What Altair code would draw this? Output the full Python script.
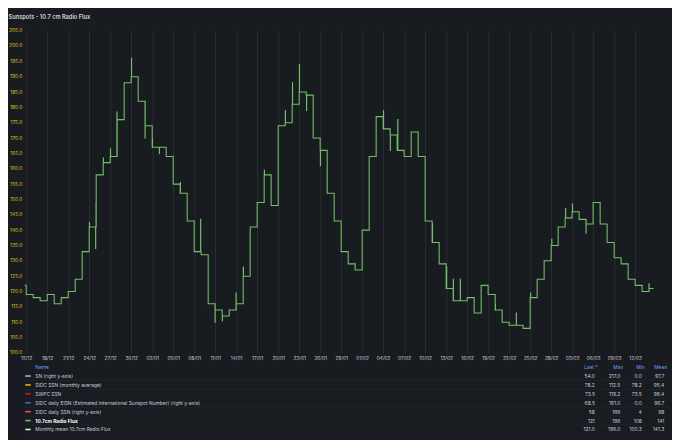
import altair as alt
import pandas as pd

# ---------------- data ----------------
start_day = "2022-12-15"
daily_flux = [119, 118, 117, 119, 116, 118, 120, 124, 133, 141,
              158, 162, 164, 176, 188, 190, 182, 174, 167, 167,
              164, 155, 152, 143, 133, 132, 116, 114, 112, 114,
              116, 125, 141, 149, 158, 148, 174, 175, 181, 185,
              184, 170, 166, 152, 143, 133, 129, 127, 140, 164,
              177, 173, 171, 166, 164, 172, 164, 143, 136, 129,
              121, 117, 117, 118, 113, 122, 119, 114, 110, 109,
              109, 108, 118, 124, 130, 135, 141, 144, 146, 143.5,
              142, 149, 142, 136, 131, 129, 124, 122, 120, 121]
first_time = "2022-12-14 18:30"
first_value = 122
last_time = "2023-03-14 15:00"
x_domain = ["2022-12-14 18:30", "2023-03-14 21:30"]

spike_times = [
    "2022-12-24 00:45", "2022-12-24 22:00", "2022-12-24 23:20", "2022-12-26 00:30",
    "2022-12-27 00:45", "2022-12-27 23:00", "2022-12-30 01:00", "2022-12-31 23:30",
    "2023-01-02 00:30", "2023-01-03 00:30", "2023-01-06 00:30", "2023-01-08 22:00",
    "2023-01-10 23:30", "2023-01-12 00:30", "2023-01-13 23:30", "2023-01-15 00:30",
    "2023-01-18 00:30", "2023-01-21 00:30", "2023-01-22 01:00", "2023-01-23 00:45",
    "2023-01-24 01:15", "2023-01-26 00:45", "2023-02-04 01:00", "2023-02-05 00:30",
    "2023-02-06 02:00", "2023-02-11 01:00", "2023-02-13 01:30", "2023-02-14 00:30",
    "2023-02-15 00:30", "2023-02-20 00:30", "2023-02-23 00:30", "2023-02-25 01:30",
    "2023-02-28 02:00", "2023-03-02 01:30", "2023-03-03 01:00", "2023-03-04 23:30",
    "2023-03-13 23:30"]
spike_values = [142.5, 134, 149, 163.5, 166.5, 178.5, 196, 170, 170, 165,
                155.5, 143.5, 110, 110.5, 119.5, 128, 159.5, 179, 188, 194,
                179, 161, 179, 166, 176, 142, 128, 124, 124, 116,
                113, 119.5, 137, 147, 148.6, 139, 122.5]

tick_dates = ["2022-12-15", "2022-12-18", "2022-12-21", "2022-12-24", "2022-12-27",
              "2022-12-30", "2023-01-02", "2023-01-05", "2023-01-08", "2023-01-11",
              "2023-01-14", "2023-01-17", "2023-01-20", "2023-01-23", "2023-01-26",
              "2023-01-29", "2023-02-01", "2023-02-04", "2023-02-07", "2023-02-10",
              "2023-02-13", "2023-02-16", "2023-02-19", "2023-02-22", "2023-02-25",
              "2023-02-28", "2023-03-03", "2023-03-06", "2023-03-09", "2023-03-12"]
y_ticks = [100, 105, 110, 115, 120, 125, 130, 135, 140, 145, 150, 155,
           160, 165, 170, 175, 180, 185, 190, 195, 200, 205]

legend_headers = ["Name", "Last *", "Max", "Min", "Mean"]
legend_names = ["SN (right y-axis)",
                "SIDC SSN (monthly average)",
                "SWPC SSN",
                "SIDC daily EISN (Estimated International Sunspot Number) (right y-axis)",
                "SIDC daily SSN (right y-axis)",
                "10.7cm Radio Flux",
                "Monthly mean 10.7cm Radio Flux"]
legend_last = ["54.0", "78.2", "73.5", "68.5", "58", "121", "121.0"]
legend_max = ["217.0", "112.5", "119.2", "191.0", "166", "196", "196.0"]
legend_min = ["0.0", "78.2", "73.5", "0.0", "4", "108", "100.3"]
legend_mean = ["97.7", "95.4", "96.4", "96.7", "98", "141", "141.3"]
series_colors = ["#B9A3E8", "#E0B400", "#C4162A", "#3274D9", "#F2495C", "#73BF69", "#D6F5D0"]
active_series = "10.7cm Radio Flux"

# ---------------- build tables ----------------
start = pd.Timestamp(start_day)
times = [pd.Timestamp(first_time)]
vals = [first_value]
for i, v in enumerate(daily_flux):
    times.append(start + pd.Timedelta(days=i))
    vals.append(v)
for ts, v in zip(spike_times, spike_values):
    t = pd.Timestamp(ts)
    base = daily_flux[(t.normalize() - start).days]
    times += [t, t + pd.Timedelta(minutes=25)]
    vals += [v, base]
times.append(pd.Timestamp(last_time))
vals.append(daily_flux[-1])
flux_df = pd.DataFrame({"time": times, "flux": vals}).sort_values("time").reset_index(drop=True)

cells = []
for ci, h in enumerate(legend_headers):
    cells.append({"row": "Name", "col": ci, "text": h, "kind": "header"})
for i, n in enumerate(legend_names):
    cells.append({"row": n, "col": -1, "text": "", "kind": "swatch"})
    cells.append({"row": n, "col": 0, "text": n, "kind": "name"})
    for ci, arr in enumerate([legend_last, legend_max, legend_min, legend_mean], start=1):
        cells.append({"row": n, "col": ci, "text": arr[i], "kind": "value"})
table_df = pd.DataFrame(cells)


def dt(s):
    t = pd.Timestamp(s)
    return alt.DateTime(year=t.year, month=t.month, date=t.day, hours=t.hour, minutes=t.minute)


FONT = "Inter"
TXT = "#ccccdc"
BLUE = "#6E9FFF"
FS = 4.9
FT = 5.0

# ---------------- main plot ----------------
main = alt.Chart(flux_df).mark_line(
    interpolate="step-after", color="#73BF69", strokeWidth=1.1, clip=True
).encode(
    x=alt.X("time:T",
            scale=alt.Scale(domain=[dt(x_domain[0]), dt(x_domain[1])]),
            axis=alt.Axis(values=[dt(s) for s in tick_dates], format="%d/%m", title=None,
                          grid=True, gridColor="#2a2d34", gridWidth=1, ticks=False, domain=False,
                          labelColor=TXT, labelFontSize=FS, labelFont=FONT, labelPadding=3,
                          labelFlush=False, labelOverlap=False)),
    y=alt.Y("flux:Q",
            scale=alt.Scale(domain=[100, 205], nice=False, zero=False),
            axis=alt.Axis(values=y_ticks, format=".1f", title=None, grid=False, ticks=False,
                          domain=False, labelColor="#E0C21E", labelFontSize=FS, labelFont=FONT,
                          labelPadding=3, labelOverlap=False)),
).properties(width=646, height=330)

# ---------------- legend table ----------------
row_domain = ["Name"] + legend_names
ty = alt.Y("row:N", scale=alt.Scale(type="point", domain=row_domain, padding=0.5), axis=None)
tx = alt.X("col:Q", scale=alt.Scale(domain=[-1, 0, 1, 2, 3, 4], range=[3.5, 11, 584, 610, 632, 655],
                                     nice=False, zero=False), axis=None)
base = alt.Chart(table_df)

seps = base.transform_filter("datum.kind == 'name'").mark_rule(
    color="#24272e", strokeWidth=0.7, yOffset=4.6
).encode(y=ty, x=alt.value(0), x2=alt.value(662))

swatch = base.transform_filter("datum.kind == 'swatch'").mark_point(
    shape="M-1,-0.3L1,-0.3L1,0.3L-1,0.3Z", filled=True, size=30, opacity=1, strokeWidth=0
).encode(x=tx, y=ty, color=alt.Color("row:N", scale=alt.Scale(domain=legend_names, range=series_colors),
                                     legend=None))

head_name = base.transform_filter("datum.kind == 'header' && datum.col == 0").mark_text(
    align="left", baseline="middle", font=FONT, fontSize=FT, color=BLUE
).encode(x=tx, y=ty, text="text:N")

head_vals = base.transform_filter("datum.kind == 'header' && datum.col > 0").mark_text(
    align="right", baseline="middle", font=FONT, fontSize=FT, color=BLUE, dx=3
).encode(x=tx, y=ty, text="text:N")

names = base.transform_filter(f"datum.kind == 'name' && datum.row != '{active_series}'").mark_text(
    align="left", baseline="middle", font=FONT, fontSize=FT, color=TXT
).encode(x=tx, y=ty, text="text:N")

active = base.transform_filter(f"datum.kind == 'name' && datum.row == '{active_series}'").mark_text(
    align="left", baseline="middle", font=FONT, fontSize=FT, color="#ffffff", fontWeight="bold"
).encode(x=tx, y=ty, text="text:N")

values = base.transform_filter("datum.kind == 'value'").mark_text(
    align="right", baseline="middle", font=FONT, fontSize=FT, color=TXT
).encode(x=tx, y=ty, text="text:N")

table = alt.layer(seps, swatch, head_name, head_vals, names, active, values).properties(
    width=662, height=73)

chart = alt.vconcat(main, table, spacing=2).properties(
    title=alt.TitleParams(text="Sunspots - 10.7 cm Radio Flux", anchor="start", fontSize=5.8,
                          fontWeight=600, color="#d8d9da", font=FONT, offset=8),
    background="#181b1f",
    padding={"left": 0, "top": 1, "right": 0, "bottom": 0},
).configure_view(strokeWidth=0)

chart.save("out.html", embed_options={"renderer": "svg", "actions": False})
